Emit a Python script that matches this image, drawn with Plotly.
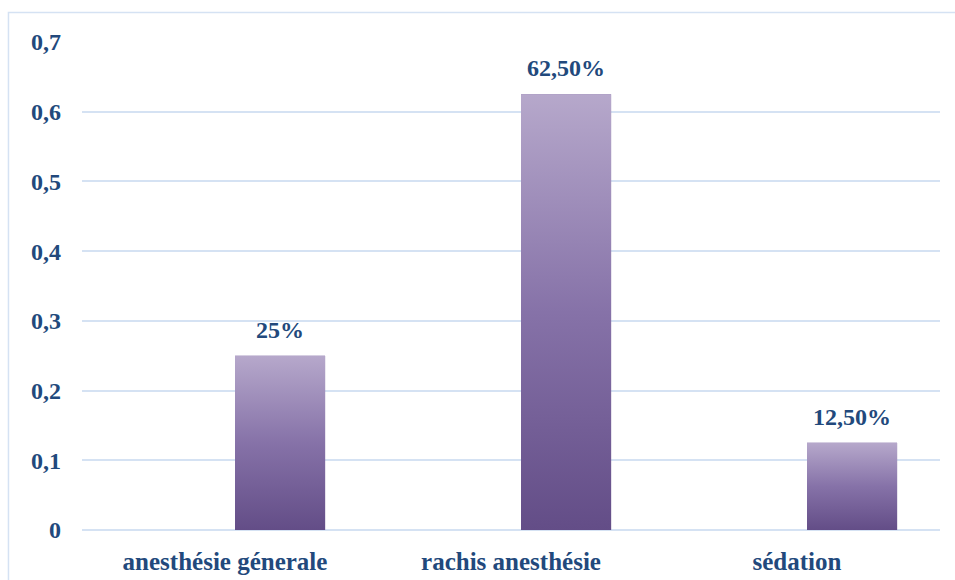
import plotly.graph_objects as go

# Type d'anesthésie : répartition des patients
categories = ["anesthésie génerale", "rachis anesthésie", "sédation"]
values = [0.25, 0.625, 0.125]
y_ticks = [0, 0.1, 0.2, 0.3, 0.4, 0.5, 0.6, 0.7]
y_ticktext = ["0", "0,1", "0,2", "0,3", "0,4", "0,5", "0,6", "0,7"]

TEXT = "#22497C"
GRID = "#D5E2F3"
FONT = "Liberation Serif"
FSIZE = 24
BAR_W = 0.315
BAR_OFF = 0.035


def pct_label(v):
    s = f"{v * 100:.2f}".replace(".", ",")
    if s.endswith(",00"):
        s = s[:-3]
    return s + "%"


labels = [pct_label(v) for v in values]
xs = list(range(len(categories)))

fig = go.Figure()

# base bars
fig.add_trace(go.Bar(
    x=xs, y=values, width=BAR_W, offset=BAR_OFF,
    marker=dict(color="#8571A6", line=dict(width=0)),
    hoverinfo="skip", showlegend=False,
))

# vertical shading on each bar
for x, v in zip(xs, values):
    x0 = x + BAR_OFF
    x1 = x0 + BAR_W
    fig.add_trace(go.Scatter(
        x=[x0, x1, x1, x0, x0], y=[0, 0, v, v, 0],
        mode="lines", line=dict(width=0), fill="toself",
        fillgradient=dict(type="vertical",
                          colorscale=[[0, "#634D87"], [0.5, "#8672A8"], [1, "#B6A8CB"]]),
        hoverinfo="skip", showlegend=False,
    ))

# value labels above the bars
annotations = [
    dict(x=x + BAR_OFF + BAR_W / 2, y=v, xref="x", yref="y",
         text=lab, showarrow=False, yanchor="bottom", yshift=11,
         font=dict(family=FONT, size=FSIZE, color=TEXT, weight="bold"))
    for x, v, lab in zip(xs, values, labels)
]

fig.update_layout(
    width=955, height=580,
    margin=dict(l=82, r=15, t=42, b=50),
    paper_bgcolor="white", plot_bgcolor="white",
    font=dict(family=FONT, color=TEXT),
    annotations=annotations,
    xaxis=dict(
        range=[-0.5, 2.5], tickvals=xs, ticktext=categories,
        showgrid=False, zeroline=False, showline=False,
        tickfont=dict(family=FONT, size=25, color=TEXT, weight="bold"),
        ticklabelstandoff=14, fixedrange=True, automargin=False,
    ),
    yaxis=dict(
        range=[0, 0.7], tickvals=y_ticks, ticktext=y_ticktext,
        showgrid=True, gridcolor=GRID, gridwidth=1.5,
        zeroline=True, zerolinecolor=GRID, zerolinewidth=1.5,
        showline=False,
        tickfont=dict(family=FONT, size=FSIZE, color=TEXT, weight="bold"),
        ticklabelstandoff=20, fixedrange=True, automargin=False,
    ),
    shapes=[dict(
        type="rect", xref="paper", yref="paper",
        x0=-0.0857, x1=1.2, y0=-0.3, y1=1.0604,
        line=dict(color=GRID, width=1.5), layer="below",
    )],
)

fig.write_html("out.html")
